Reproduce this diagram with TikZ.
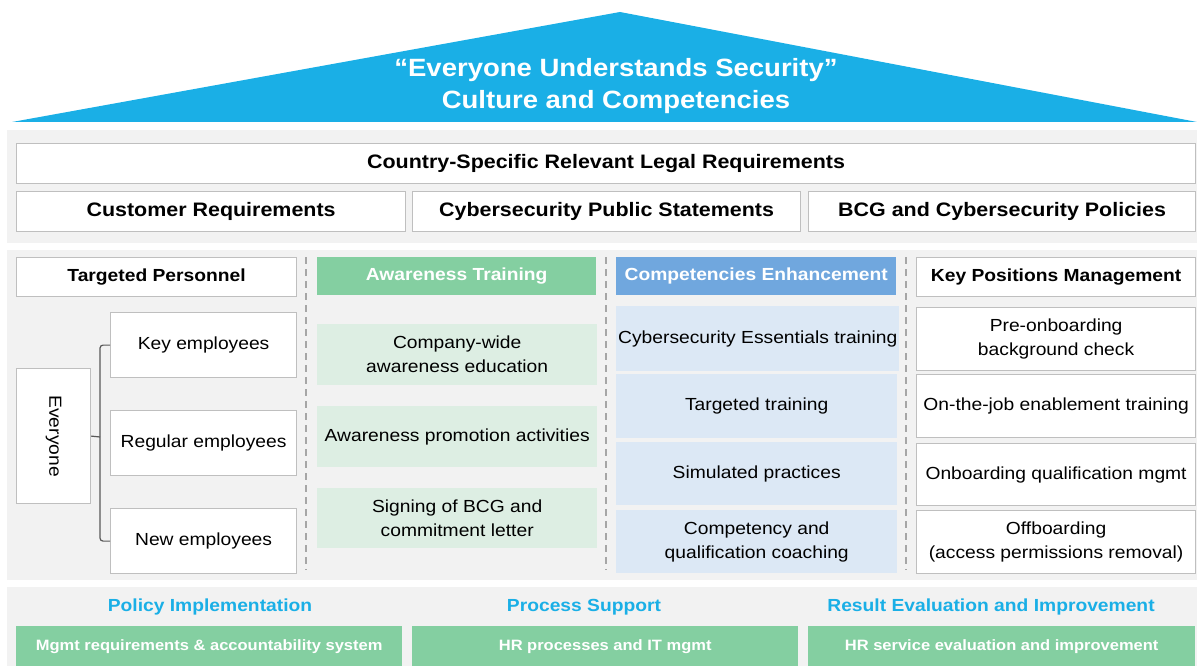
\documentclass[tikz,border=0pt]{standalone}
\usepackage{fontspec}
\usepackage{graphicx}
\setmainfont{Liberation Sans}[FakeStretch=1.1]
\definecolor{roofblue}{HTML}{1AAFE6}
\definecolor{bandgrey}{HTML}{F2F2F2}
\definecolor{edgegrey}{HTML}{BFBFBF}
\definecolor{headgreen}{HTML}{84CFA1}
\definecolor{lightgreen}{HTML}{DDEEE3}
\definecolor{headblue}{HTML}{70A7DE}
\definecolor{lightblue}{HTML}{DCE8F5}
\definecolor{linegrey}{HTML}{A6A6A6}
\newcommand{\rooffont}{\fontsize{25}{32}\selectfont\bfseries}
\newcommand{\rowfont}{\fontsize{19.5}{24}\selectfont\bfseries}
\newcommand{\headfont}{\fontsize{17.5}{24}\selectfont\bfseries}
\newcommand{\itemfont}{\fontsize{17.5}{24}\selectfont}
\newcommand{\basefont}{\fontsize{15}{18}\selectfont\bfseries}

\begin{document}
\begin{tikzpicture}[x=1pt,y=-1pt,
   box/.style={anchor=north west,inner sep=2pt,align=center,font=\itemfont},
   wbox/.style={box,draw=edgegrey,line width=1.2pt,fill=white},
   greenhead/.style={box,fill=headgreen,text=white,font=\headfont},
   greenitem/.style={box,fill=lightgreen},
   bluehead/.style={box,fill=headblue,text=white,font=\headfont},
   blueitem/.style={box,fill=lightblue},
   sepline/.style={draw=linegrey,line width=1.2pt,dash pattern=on 7pt off 5pt},
   bracket/.style={draw=black!65,line width=1.2pt,rounded corners=3pt}]
   \useasboundingbox (0,0) rectangle (1197,666);

   % roof
   \fill[roofblue] (12,122) -- (620,12) -- (1197,122) -- cycle;
   \node[text=white,align=center,font=\rooffont] (roof) at (616,86) {``Everyone Understands Security''\\Culture and Competencies};

   % grey bands
   \fill[bandgrey] (7,130) rectangle (1197,243);
   \fill[bandgrey] (7,250) rectangle (1197,580);
   \fill[bandgrey] (7,587) rectangle (1197,666);

   % requirements
   \node[wbox,font=\rowfont,minimum width=1179,minimum height=40] (legal) at (16,143) {Country-Specific Relevant Legal Requirements};
   \node[wbox,font=\rowfont,minimum width=389,minimum height=40] (cust) at (16,191) {Customer Requirements};
   \node[wbox,font=\rowfont,minimum width=388,minimum height=40] (pubstat) at (412,191) {Cybersecurity Public Statements};
   \node[wbox,font=\rowfont,minimum width=387,minimum height=40] (policies) at (808,191) {BCG and Cybersecurity Policies};

   % targeted personnel
   \node[wbox,font=\headfont,minimum width=280,minimum height=39] (target) at (16,257) {Targeted Personnel};
   \node[wbox,minimum width=74,minimum height=135] (everyone) at (16,368) {\rotatebox{-90}{Everyone}};
   \node[wbox,minimum width=186,minimum height=65] (keyemp) at (110,312) {Key employees};
   \node[wbox,minimum width=186,minimum height=65] (regemp) at (110,410) {Regular employees};
   \node[wbox,minimum width=186,minimum height=65] (newemp) at (110,508) {New employees};
   \coordinate (brk) at (100,437);
   \draw[bracket] (keyemp.west) -| (brk) |- (newemp.west);
   \draw[bracket] (everyone.east) -- (brk);

   % awareness training
   \node[greenhead,minimum width=279,minimum height=38] (awhead) at (317,257) {Awareness Training};
   \node[greenitem,minimum width=280,minimum height=61] (aw1) at (317,324) {Company-wide\\awareness education};
   \node[greenitem,minimum width=280,minimum height=61] (aw2) at (317,406) {Awareness promotion activities};
   \node[greenitem,minimum width=280,minimum height=60] (aw3) at (317,488) {Signing of BCG and\\commitment letter};

   % competencies enhancement
   \node[bluehead,minimum width=280,minimum height=38] (cehead) at (616,257) {Competencies Enhancement};
   \node[blueitem,minimum width=281,minimum height=65] (ce1) at (616,306) {Cybersecurity Essentials training};
   \node[blueitem,minimum width=281,minimum height=64] (ce2) at (616,374) {Targeted training};
   \node[blueitem,minimum width=281,minimum height=63] (ce3) at (616,442) {Simulated practices};
   \node[blueitem,minimum width=281,minimum height=63] (ce4) at (616,510) {Competency and\\qualification coaching};

   % key positions
   \node[wbox,font=\headfont,minimum width=279,minimum height=39] (kphead) at (916,257) {Key Positions Management};
   \node[wbox,minimum width=279,minimum height=63] (kp1) at (916,307) {Pre-onboarding\\background check};
   \node[wbox,minimum width=279,minimum height=63] (kp2) at (916,374) {On-the-job enablement training};
   \node[wbox,minimum width=279,minimum height=62] (kp3) at (916,443) {Onboarding qualification mgmt};
   \node[wbox,minimum width=279,minimum height=63] (kp4) at (916,510) {Offboarding\\(access permissions removal)};

   % separators
   \draw[sepline] (306,257) -- (306,570);
   \draw[sepline] (606,257) -- (606,570);
   \draw[sepline] (906,257) -- (906,570);

   % foundation
   \node[text=roofblue,font=\headfont] (polimp) at (210,607) {Policy Implementation};
   \node[text=roofblue,font=\headfont] (procsup) at (584,607) {Process Support};
   \node[text=roofblue,font=\headfont] (reseval) at (991,607) {Result Evaluation and Improvement};
   \node[greenhead,font=\basefont,minimum width=386,minimum height=40] (polbox) at (16,626) {Mgmt requirements \& accountability system};
   \node[greenhead,font=\basefont,minimum width=386,minimum height=40] (procbox) at (412,626) {HR processes and IT mgmt};
   \node[greenhead,font=\basefont,minimum width=387,minimum height=40] (resbox) at (808,626) {HR service evaluation and improvement};
\end{tikzpicture}
\end{document}
